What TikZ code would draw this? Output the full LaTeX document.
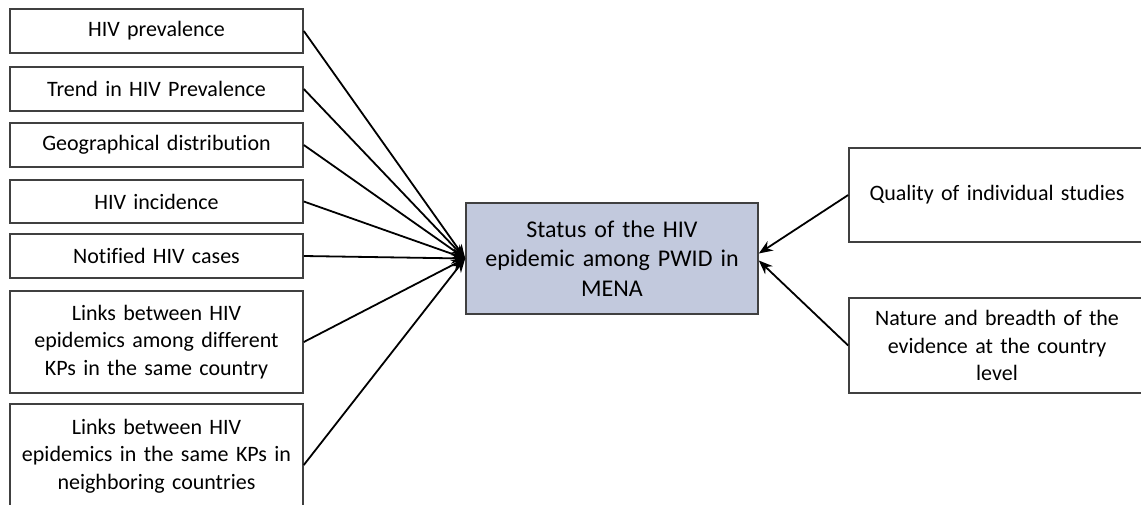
\documentclass[tikz,border=0pt]{standalone}
\usepackage{fontspec}
\setmainfont{Carlito}[Ligatures=NoCommon]
\usetikzlibrary{arrows.meta}
\definecolor{boxline}{RGB}{64,64,64}
\definecolor{mainfill}{RGB}{194,201,221}
\tikzset{
  leftbox/.style={draw=boxline, line width=0.8pt, fill=white, minimum width=146.5pt, inner sep=0pt,
    text width=140pt, align=center, font=\fontsize{11}{13.75}\selectfont},
  rightbox/.style={draw=boxline, line width=0.8pt, fill=white, minimum width=148pt, inner sep=0pt,
    text width=140pt, align=center, font=\fontsize{11}{13.6}\selectfont},
  mainbox/.style={draw=boxline, line width=0.8pt, fill=mainfill, minimum width=146pt, minimum height=55.5pt,
    inner sep=0pt, text width=138pt, align=center, font=\fontsize{12}{14.7}\selectfont},
  conn/.style={draw=black, line width=0.9pt, -{Stealth[length=7pt,width=5.5pt]}}
}
\begin{document}
\begin{tikzpicture}[x=0.5pt,y=-0.5pt]
\useasboundingbox[fill=white] (0,0) rectangle (1141,504);
\begin{scope}
\clip (0,0) rectangle (1141,504);
\node[leftbox, minimum height=22pt] (b1) at (156.5,31) {HIV prevalence};
\node[leftbox, minimum height=22pt] (b2) at (156.5,89) {Trend in HIV Prevalence};
\node[leftbox, minimum height=22pt] (b3) at (156.5,145) {Geographical distribution};
\node[leftbox, minimum height=21.5pt] (b4) at (156.5,201.5) {HIV incidence};
\node[leftbox, minimum height=22pt] (b5) at (156.5,256) {Notified HIV cases};
\node[leftbox, minimum height=51pt] (b6) at (156.5,342) {Links between HIV\\epidemics among different\\KPs in the same country};
\node[leftbox, minimum height=52pt] (b7) at (156.5,456) {Links between HIV\\epidemics in the same KPs in\\neighboring countries};
\node[mainbox] (c) at (612,258.5) {Status of the HIV\\epidemic among PWID in\\MENA};
\node[rightbox, minimum height=47pt] (r1) at (997,195) {Quality of individual studies};
\node[rightbox, minimum height=47.5pt] (r2) at (997,345.5) {Nature and breadth of the\\evidence at the country\\level};
\foreach \b in {b1,b2,b3,b4,b5,b6}{
  \draw[conn] (\b.east) -- (c.west);
}
\draw[conn] ([yshift=-4.5pt]b7.east) -- (c.west);
\draw[conn] (r1.west) -- ([yshift=2.5pt]c.east);
\draw[conn] (r2.west) -- ([yshift=-1pt]c.east);
\end{scope}
\end{tikzpicture}
\end{document}
